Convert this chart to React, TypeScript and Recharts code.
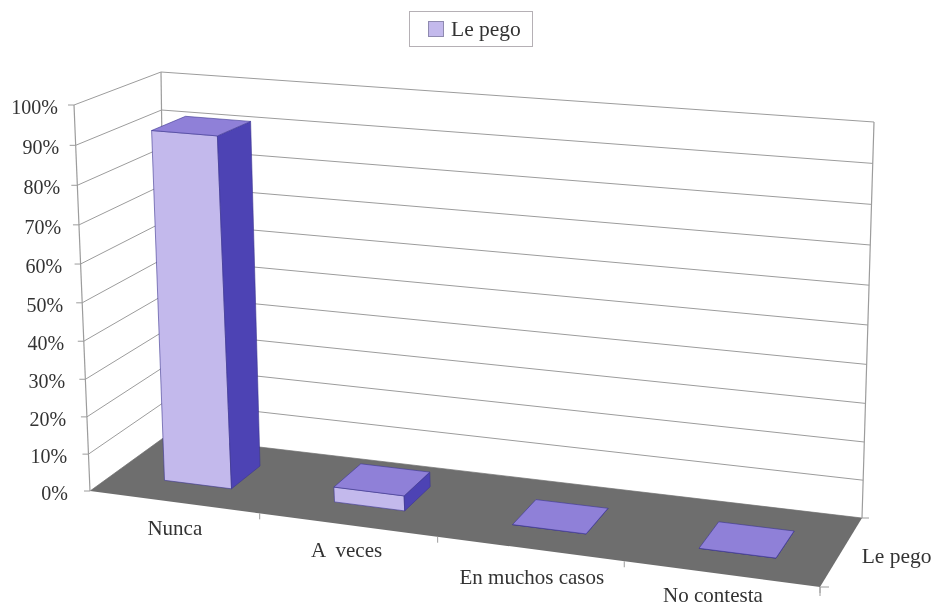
import { BarChart, Bar, XAxis, YAxis, CartesianGrid, Legend, Customized } from "recharts";

const categories = ["Nunca", "A  veces", "En muchos casos", "No contesta"];
const values = [92, 4, 0, 0];
const seriesName = "Le pego";
const valueTicks = [0, 10, 20, 30, 40, 50, 60, 70, 80, 90, 100];

const data = categories.map((name, i) => ({ name, value: values[i] }));

const WIDTH = 935;
const HEIGHT = 607;
const MARGIN = { top: 100, right: 135, bottom: 106, left: 99 };
const PLOT_LEFT = MARGIN.left + 1;
const PLOT_W = WIDTH - PLOT_LEFT - MARGIN.right;
const PLOT_H = HEIGHT - MARGIN.top - MARGIN.bottom - 1;
const FONT = "'Liberation Serif', serif";
const TEXT = "#333333";
const WALL = "#9c9c9c";
const FRONT = "#c3b9ec";
const TOP = "#8f80d8";
const SIDE = "#4d43b4";
const FLOOR = "#6e6e6e";
const EDGE = "#3d3590";
// bar depth on the floor, as a share of the floor depth
const DEPTH_FROM = 0.3;
const DEPTH_TO = 0.7;
// the scan sits the bars a little right of the middle of their band
const BAR_SHIFT = 0.002;
// hand placed nudges for the category labels, the scan is not quite regular
const LABEL_NUDGE_X = [1, -1, 2, -8];
const LABEL_NUDGE_Y = [0, -1, 2, -5];

type Pt = [number, number];

// maps the unit square on a four cornered plane of the perspective box
function quad(p0: Pt, p1: Pt, p2: Pt, p3: Pt) {
  const dx1 = p1[0] - p2[0];
  const dx2 = p3[0] - p2[0];
  const sx = p0[0] - p1[0] + p2[0] - p3[0];
  const dy1 = p1[1] - p2[1];
  const dy2 = p3[1] - p2[1];
  const sy = p0[1] - p1[1] + p2[1] - p3[1];
  const den = dx1 * dy2 - dx2 * dy1;
  const g = (sx * dy2 - dx2 * sy) / den;
  const h = (dx1 * sy - sx * dy1) / den;
  return (t: number, d: number): Pt => {
    const w = g * t + h * d + 1;
    return [
      ((p1[0] - p0[0] + g * p1[0]) * t + (p3[0] - p0[0] + h * p3[0]) * d + p0[0]) / w,
      ((p1[1] - p0[1] + g * p1[1]) * t + (p3[1] - p0[1] + h * p3[1]) * d + p0[1]) / w,
    ];
  };
}

const floorPlane = quad([90, 491], [820, 587], [862, 518], [166, 436]);
const topPlane = quad([74, 105], [812, 165], [874, 122], [161, 72]);

// t: along the categories, d: depth, v: value 0..100
function project(t: number, d: number, v: number): Pt {
  const u = t + 0.05 * t * (1 - t);
  const a = floorPlane(u, d);
  const b = topPlane(u, d);
  const s = v / 100 - 0.05 * (v / 100) * (1 - v / 100);
  return [a[0] + (b[0] - a[0]) * s, a[1] + (b[1] - a[1]) * s];
}

const toPoints = (pts: Pt[]) => pts.map((p) => `${p[0].toFixed(1)},${p[1].toFixed(1)}`).join(" ");
const plotV = (y: number) => ((MARGIN.top + PLOT_H - y) / PLOT_H) * 100;
const plotT = (x: number) => (x - PLOT_LEFT) / PLOT_W + BAR_SHIFT;

function Floor() {
  const corners = [project(0, 0, 0), project(1, 0, 0), project(1, 1, 0), project(0, 1, 0)];
  const frontRight = project(1, 0, 0);
  const backRight = project(1, 1, 0);
  const seriesAt = project(1, 0.5, 0);
  return (
    <g>
      <polygon points={toPoints(corners)} fill={FLOOR} />
      <line x1={frontRight[0]} y1={frontRight[1]} x2={frontRight[0] + 9} y2={frontRight[1]} stroke={WALL} />
      <line x1={frontRight[0]} y1={frontRight[1]} x2={frontRight[0]} y2={frontRight[1] + 9} stroke={WALL} />
      <line x1={backRight[0]} y1={backRight[1]} x2={backRight[0] + 7} y2={backRight[1]} stroke={WALL} />
      <text x={seriesAt[0] + 20} y={seriesAt[1] + 12} fontFamily={FONT} fontSize={21.5} fill={TEXT}>
        {seriesName}
      </text>
      {[[0, 0], [0, 1], [1, 1]].map(([t, d]) => {
        const a = project(t, d, 0);
        const b = project(t, d, 100);
        return <line key={`${t}-${d}`} x1={a[0]} y1={a[1]} x2={b[0]} y2={b[1]} stroke={WALL} strokeWidth={1.2} />;
      })}
    </g>
  );
}

function GridLine(props: any) {
  const v = plotV(props.y1);
  const a = project(0, 0, v);
  const b = project(0, 1, v);
  const c = project(1, 1, v);
  return <polyline points={toPoints([a, b, c])} fill="none" stroke={WALL} strokeWidth={1} />;
}

function ValueTick(props: any) {
  const v = props.payload.value;
  const p = project(0, 0, v);
  return (
    <g>
      <line x1={p[0] - 6} y1={p[1]} x2={p[0]} y2={p[1]} stroke={WALL} />
      <text x={p[0] - 22 + (v / 100) * 6} y={p[1] + 9} textAnchor="end" fontFamily={FONT} fontSize={20} fill={TEXT}>
        {v}%
      </text>
    </g>
  );
}

function CategoryTick(props: any) {
  const i = props.index;
  const t = (i + 0.5) / categories.length;
  const p = project(t, 0, 0);
  const end = project((i + 1) / categories.length, 0, 0);
  return (
    <g>
      <line x1={end[0]} y1={end[1]} x2={end[0]} y2={end[1] + 6} stroke={WALL} />
      <text
        x={p[0] + LABEL_NUDGE_X[i]}
        y={p[1] + 33 + LABEL_NUDGE_Y[i]}
        textAnchor="middle"
        fontFamily={FONT}
        fontSize={21}
        fill={TEXT}
        xmlSpace="preserve"
      >
        {props.payload.value}
      </text>
    </g>
  );
}

function Box3D(props: any) {
  const { x, y, width } = props;
  const t0 = plotT(x);
  const t1 = plotT(x + width);
  const v = plotV(y);
  const frontFace = [project(t0, DEPTH_FROM, 0), project(t1, DEPTH_FROM, 0), project(t1, DEPTH_FROM, v), project(t0, DEPTH_FROM, v)];
  const sideFace = [project(t1, DEPTH_FROM, 0), project(t1, DEPTH_TO, 0), project(t1, DEPTH_TO, v), project(t1, DEPTH_FROM, v)];
  const topFace = [project(t0, DEPTH_FROM, v), project(t1, DEPTH_FROM, v), project(t1, DEPTH_TO, v), project(t0, DEPTH_TO, v)];
  return (
    <g stroke={EDGE} strokeWidth={0.6} strokeLinejoin="round">
      <polygon points={toPoints(frontFace)} fill={FRONT} />
      <polygon points={toPoints(sideFace)} fill={SIDE} />
      <polygon points={toPoints(topFace)} fill={TOP} />
    </g>
  );
}

function LegendBox(props: any) {
  const item = props.payload?.[0];
  return (
    <div
      style={{
        boxSizing: "border-box",
        width: 124,
        height: 36,
        border: "1px solid #b5b0b5",
        display: "flex",
        alignItems: "center",
        paddingLeft: 18,
        fontFamily: FONT,
        fontSize: 21.5,
        color: TEXT,
      }}
    >
      <span style={{ width: 16, height: 16, background: FRONT, border: "1px solid #8f8ab0", marginRight: 7, boxSizing: "border-box" }} />
      {item ? item.value : seriesName}
    </div>
  );
}

export default function App() {
  return (
    <div style={{ position: "absolute", left: 0, top: 0, width: WIDTH, height: HEIGHT, filter: "blur(0.7px)" }}>
      <BarChart width={WIDTH} height={HEIGHT} data={data} margin={MARGIN} barCategoryGap="30%">
        <Customized component={Floor} />
        <CartesianGrid vertical={false} horizontal={(p: any) => <GridLine key={p.key} {...p} />} />
        <XAxis dataKey="name" height={1} axisLine={false} tickLine={false} interval={0} tick={(p: any) => <CategoryTick {...p} />} />
        <YAxis domain={[0, 100]} ticks={valueTicks} width={1} axisLine={false} tickLine={false} interval={0} tick={(p: any) => <ValueTick {...p} />} />
        <Legend
          layout="vertical"
          align="center"
          verticalAlign="middle"
          wrapperStyle={{ left: 409, top: 11, width: 124 }}
          content={(p: any) => <LegendBox {...p} />}
        />
        <Bar dataKey="value" name={seriesName} fill={FRONT} isAnimationActive={false} shape={(p: any) => <Box3D {...p} />} />
      </BarChart>
    </div>
  );
}
